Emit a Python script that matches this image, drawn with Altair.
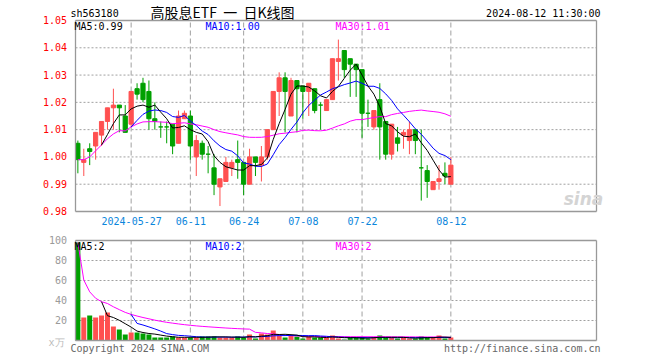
import altair as alt
import pandas as pd
import numpy as np

# ---------------- data ----------------
open_ = [1.005, 0.998, 1.003, 1.004, 1.008, 1.013, 1.018, 1.019, 1.015, 1.012,
         1.025, 1.027, 1.024, 1.014, 1.011, 1.011, 1.012, 1.005, 1.014, 1.015,
         1.000, 1.005, 1.001, 0.996, 0.989, 0.991, 0.996, 0.999, 0.998, 0.990,
         1.000, 0.997, 1.000, 1.010, 1.024, 1.029, 1.015, 1.028, 1.026, 1.024,
         1.025, 1.019, 1.017, 1.021, 1.035, 1.039, 1.036, 1.034, 1.032, 1.016,
         1.011, 1.021, 1.013, 1.001, 1.007, 1.008, 1.006, 1.010, 0.996, 0.995,
         0.988, 0.991, 0.994, 0.990]
high = [1.006, 1.003, 1.005, 1.009, 1.013, 1.018, 1.025, 1.019, 1.019, 1.024,
        1.027, 1.029, 1.028, 1.020, 1.013, 1.013, 1.012, 1.017, 1.017, 1.017,
        1.008, 1.006, 1.004, 1.001, 0.992, 1.000, 0.999, 1.006, 0.998, 1.003,
        1.000, 1.004, 1.010, 1.024, 1.031, 1.031, 1.029, 1.028, 1.026, 1.027,
        1.025, 1.020, 1.021, 1.036, 1.043, 1.039, 1.036, 1.034, 1.032, 1.021,
        1.017, 1.027, 1.013, 1.012, 1.011, 1.010, 1.013, 1.010, 1.010, 0.997,
        0.991, 0.997, 0.998, 1.000]
low = [0.994, 0.993, 0.997, 0.999, 1.004, 1.010, 1.010, 1.009, 1.009, 1.011,
       1.021, 1.020, 1.010, 1.010, 1.007, 1.005, 1.001, 1.005, 1.014, 0.999,
       0.993, 0.999, 0.994, 0.986, 0.982, 0.991, 0.993, 0.992, 0.986, 0.990,
       0.993, 0.991, 0.999, 1.010, 1.015, 1.009, 1.015, 1.009, 1.014, 1.015,
       1.016, 1.010, 1.017, 1.021, 1.028, 1.029, 1.022, 1.022, 1.007, 1.011,
       1.010, 0.999, 0.999, 0.999, 1.002, 1.003, 1.001, 1.001, 0.984, 0.985,
       0.988, 0.988, 0.990, 0.990]
close = [0.999, 0.999, 1.002, 1.009, 1.013, 1.018, 1.019, 1.018, 1.009, 1.024,
         1.023, 1.021, 1.014, 1.013, 1.011, 1.011, 1.004, 1.015, 1.016, 1.004,
         1.006, 1.001, 1.001, 0.990, 0.992, 0.998, 0.998, 0.998, 0.990, 1.000,
         0.998, 1.000, 1.010, 1.024, 1.029, 1.024, 1.028, 1.025, 1.024, 1.027,
         1.017, 1.019, 1.021, 1.036, 1.036, 1.032, 1.034, 1.032, 1.016, 1.016,
         1.017, 1.011, 1.001, 1.012, 1.005, 1.009, 1.010, 1.006, 0.996, 0.991,
         0.991, 0.992, 0.993, 0.997]
volume = [98, 23, 25, 23, 25, 28, 14, 11, 6, 8,
          8, 7, 6, 3, 3, 3, 4, 3, 3, 3,
          3, 4, 4, 4, 3, 3, 3, 4, 3, 6,
          2, 7, 6, 10, 5, 3, 5, 4, 2, 4,
          3, 3, 3, 5, 2, 1, 3, 3, 3, 2,
          3, 5, 3, 3, 2, 3, 2, 2, 4, 3,
          3, 5, 2, 3]

tick_idx = [9, 19, 28, 38, 48, 63]
tick_lbl = ["2024-05-27", "06-11", "06-24", "07-08", "07-22", "08-12"]
price_ticks = [0.98, 0.99, 1.00, 1.01, 1.02, 1.03, 1.04, 1.05]
vol_ticks = [20, 40, 60, 80, 100]

# ---------------- styling ----------------
RED = "#ff5050"
GREEN = "#00a000"
MONO = "DejaVu Sans Mono"
XDOM = [-0.4, 87.6]
PDOM = [0.98, 1.05]
VDOM = [0, 100]
W, H = 531, 320
GRID = "#a0a0a0"
BORDER = "#999999"

n = len(close)
df = pd.DataFrame({"idx": np.arange(n), "open": open_, "high": high,
                   "low": low, "close": close, "vol": volume})
df["dir"] = np.where(df["close"] > df["open"], "up", "down")
df["ma5"] = df["close"].rolling(5).mean()
df["ma10"] = df["close"].rolling(10).mean()
df["ma30"] = df["close"].rolling(30, min_periods=1).mean()
df["vma5"] = df["vol"].rolling(5).mean()
df["vma10"] = df["vol"].rolling(10).mean()
df["vma30"] = df["vol"].rolling(30, min_periods=1).mean()
# guide columns (panel bounds and gridline values) kept in the same table
df["xl"] = XDOM[0]
df["xr"] = XDOM[1]
df["pmin"] = PDOM[0]
df["pmax"] = PDOM[1]
df["vmin"] = VDOM[0]
df["vmax"] = VDOM[1]
pg = price_ticks[1:-1]
vg = vol_ticks[:-1]
df["pgrid"] = pg + [None] * (n - len(pg))
df["vgrid"] = vg + [None] * (n - len(vg))

xscale = alt.Scale(domain=XDOM, nice=False, zero=False)
pscale = alt.Scale(domain=PDOM, range=[191, 0], nice=False, zero=False)
vscale = alt.Scale(domain=VDOM, range=[320, 220], nice=False, zero=False)
color = alt.Color("dir:N", scale=alt.Scale(domain=["up", "down"], range=[RED, GREEN]), legend=None)

label_expr = " : ".join(f"datum.value == {i} ? '{l}'" for i, l in zip(tick_idx, tick_lbl)) + " : ''"
x_axis = alt.Axis(values=tick_idx, labelExpr=label_expr, offset=-129, ticks=False, domain=False,
                  grid=False, labelPadding=5, labelFont=MONO, labelFontSize=10,
                  labelColor="#0a86dc", title=None, labelFlush=False, labelOverlap=False,
                  orient="bottom")
p_axis = alt.Axis(values=price_ticks, format=".2f", ticks=False, domain=False, labelPadding=4,
                  labelColor="#ff0000", labelFont=MONO, labelFontSize=10, grid=False,
                  title=None, labelOverlap=False, orient="left")
v_axis = alt.Axis(values=vol_ticks, format="d", ticks=False, domain=False, labelPadding=4,
                  labelColor="#9a9a9a", labelFont=MONO, labelFontSize=10, grid=False,
                  title=None, labelOverlap=False, orient="left")


def X(field):
    return alt.X(f"{field}:Q", scale=xscale, axis=x_axis)


base = alt.Chart(df)


def ma_line(field, col, yscale):
    return base.transform_filter(f"isValid(datum.{field})").mark_line(
        color=col, strokeWidth=1, interpolate="linear").encode(
        x=X("idx"), y=alt.Y(f"{field}:Q", scale=yscale, axis=None))


def hline(yfield, yscale, filt, col, dash=None, width=1.0):
    kw = {"strokeWidth": width}
    if dash:
        kw["strokeDash"] = dash
    return base.transform_filter(filt).transform_fold(["xl", "xr"], as_=["k", "gx"]).mark_line(
        **kw).encode(x=X("gx"), y=alt.Y(f"{yfield}:Q", scale=yscale, axis=None),
                     detail="idx:N", color=alt.value(col))


def vline(xfield, lo, hi, yscale, filt, col, dash=None, width=1.0, axis=None):
    kw = {"strokeWidth": width}
    if dash:
        kw["strokeDash"] = dash
    return base.transform_filter(filt).transform_fold([lo, hi], as_=["k", "gy"]).mark_line(
        **kw).encode(x=X(xfield), y=alt.Y("gy:Q", scale=yscale, axis=axis),
                     detail="idx:N", color=alt.value(col))


tick_filter = alt.FieldOneOfPredicate(field="idx", oneOf=tick_idx)
first = "datum.idx == 0"


def panel_guides(lo, hi, gridfield, yscale, axis):
    return [
        vline("idx", lo, hi, yscale, tick_filter, GRID, dash=[5, 3], axis=axis),
        hline(gridfield, yscale, f"isValid(datum.{gridfield})", GRID, dash=[2, 2]),
    ]


def panel_box(lo, hi, yscale):
    return [
        hline(lo, yscale, first, BORDER, width=1.3),
        hline(hi, yscale, first, BORDER, width=1.3),
        vline("xl", lo, hi, yscale, first, BORDER, width=1.3),
        vline("xr", lo, hi, yscale, first, BORDER, width=1.3),
    ]


# ---- price panel ----
wick = base.mark_rule(strokeWidth=1).encode(
    x=X("idx"), y=alt.Y("low:Q", scale=pscale, axis=None), y2="high:Q", color=color)
body = base.mark_bar(size=4.2, strokeWidth=1).encode(
    x=X("idx"), y=alt.Y("open:Q", scale=pscale, axis=None), y2="close:Q", color=color,
    stroke=color)

# ---- volume panel ----
vbars = base.mark_bar(size=5).encode(
    x=X("idx"), y=alt.Y("vol:Q", scale=vscale, axis=None), color=color)


# ---- texts ----
def txt(s, x, y, col, align="left", size=10, font=MONO, style="normal", weight="normal"):
    return alt.Chart(alt.Data(values=[{"t": s}])).mark_text(
        align=align, baseline="middle", font=font, fontSize=size, color=col,
        fontStyle=style, fontWeight=weight).encode(
        x=alt.value(x), y=alt.value(y), text="t:N")


NB = "\u00a0"
texts = [
    txt("sh563180", 0, -7, "#000000"),
    txt(f"高股息ETF{NB}{NB}一{NB}{NB}日K线图", 80, -7, "#000000", size=14, font="Noto Sans CJK SC"),
    txt("2024-08-12 11:30:00", 530, -7, "#000000", align="right"),
    txt("MA5:0.99", 4, 6.5, "#000000"),
    txt("MA10:1.00", 135, 6.5, "#0000ff"),
    txt("MA30:1.01", 265, 6.5, "#ff00ff"),
    txt("MA5:2", 4, 226.5, "#000000"),
    txt("MA10:2", 135, 226.5, "#0000ff"),
    txt("MA30:2", 265, 226.5, "#ff00ff"),
    txt("Copyright 2024 SINA.COM", 0, 328, "#666666"),
    txt("http://finance.sina.com.cn", 530, 328, "#666666", align="right"),
    txt("x万", -14, 322, "#bbbbbb", align="center"),
    txt("sina", 513, 179, "#d4d4d4", align="center", size=17, font="DejaVu Sans",
        style="italic", weight="bold"),
]

layers = (panel_guides("pmin", "pmax", "pgrid", pscale, p_axis)
          + [wick, body,
             ma_line("ma30", "#ff00ff", pscale),
             ma_line("ma10", "#0000ff", pscale),
             ma_line("ma5", "#000000", pscale)]
          + panel_box("pmin", "pmax", pscale)
          + panel_guides("vmin", "vmax", "vgrid", vscale, v_axis)
          + [vbars,
             ma_line("vma30", "#ff00ff", vscale),
             ma_line("vma10", "#0000ff", vscale),
             ma_line("vma5", "#000000", vscale)]
          + panel_box("vmin", "vmax", vscale)
          + texts)

chart = alt.layer(*layers).resolve_scale(y="independent").properties(
    width=W, height=H,
    autosize=alt.AutoSizeParams(type="none"),
    padding={"left": 70.5, "top": 20.5, "right": 58.5, "bottom": 19.5},
    background="white",
).configure_view(stroke=None)

chart.save("out.html", embed_options={"renderer": "svg", "actions": False})
